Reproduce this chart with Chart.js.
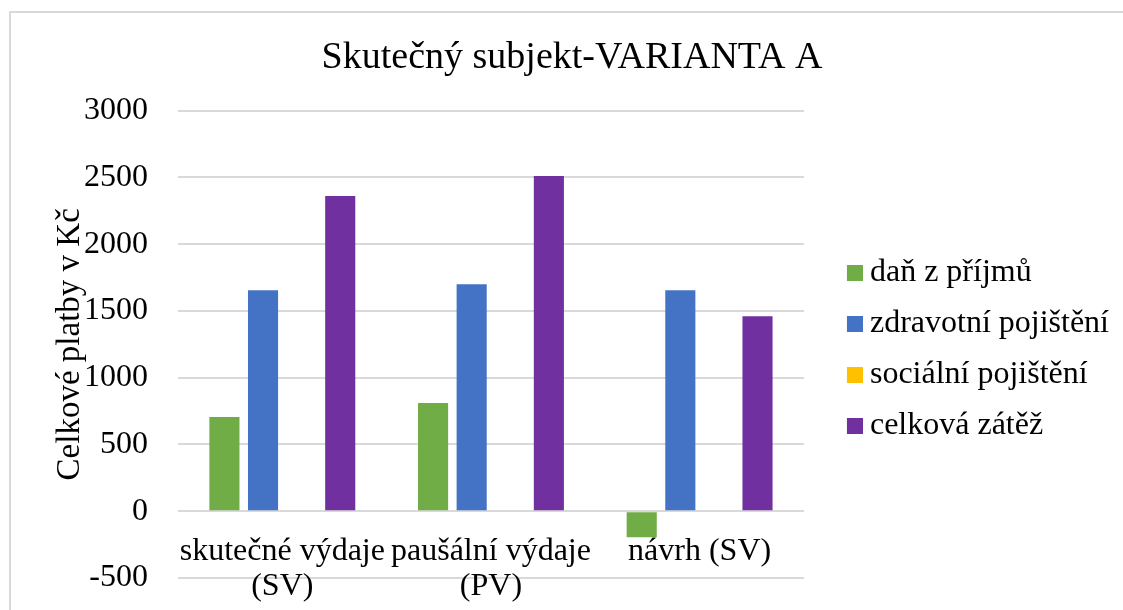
<!DOCTYPE html>
<html><head><meta charset="utf-8">
<script src="https://cdn.jsdelivr.net/npm/chart.js@4.4.0/dist/chart.umd.min.js"></script>
<style>html,body{margin:0;padding:0;background:#fff;overflow:hidden}#wrap{width:1123px;height:610px;position:relative}</style>
</head><body><div id="wrap"><canvas id="c"></canvas></div>
<script>
const chartTitle = 'Skutečný subjekt-VARIANTA A';
const yAxisTitle = 'Celkové platby v Kč';
const categories = [['skutečné výdaje', '(SV)'], ['paušální výdaje', '(PV)'], 'návrh (SV)'];
const seriesNames = ['daň z příjmů', 'zdravotní pojištění', 'sociální pojištění', 'celková zátěž'];
const danZPrijmu = [705, 810, -195];
const zdravotniPojisteni = [1655, 1700, 1655];
const socialniPojisteni = [0, 0, 0];
const celkovaZatez = [2360, 2510, 1460];
const seriesColors = ['#70AD47', '#4472C4', '#FFC000', '#7030A0'];
const yMin = -500, yMax = 3000, yStep = 500;

const FONT = 'Liberation Serif';
const seriesValues = [danZPrijmu, zdravotniPojisteni, socialniPojisteni, celkovaZatez];

function makeSwatch(color) {
  const c = document.createElement('canvas');
  c.width = 49; c.height = 16;
  const g = c.getContext('2d');
  g.fillStyle = color;
  g.fillRect(33, 0, 16, 16);
  return c;
}
const swatches = seriesColors.map(makeSwatch);

const framePlugin = {
  id: 'frame',
  beforeDraw(chart) {
    const ctx = chart.ctx;
    ctx.save();
    ctx.fillStyle = '#fff';
    ctx.fillRect(0, 0, chart.width, chart.height);
    ctx.strokeStyle = '#d9d9d9';
    ctx.lineWidth = 2;
    ctx.strokeRect(10, 12, 1400, 900);
    ctx.restore();
  }
};

new Chart(document.getElementById('c'), {
  type: 'bar',
  data: {
    labels: categories,
    datasets: seriesNames.map((name, i) => ({
      label: name,
      data: seriesValues[i],
      backgroundColor: seriesColors[i],
      borderWidth: 0,
      barPercentage: 0.78,
      categoryPercentage: 0.74
    }))
  },
  options: {
    responsive: true,
    maintainAspectRatio: false,
    animation: false,
    layout: { padding: { top: 14, left: 25, right: 4, bottom: 32 } },
    plugins: {
      title: {
        display: true, text: chartTitle, color: '#000',
        font: { family: FONT, size: 38, weight: 'normal' },
        padding: { top: 21, bottom: 30 }
      },
      legend: {
        position: 'right', align: 'center', fullSize: false, maxWidth: 400,
        title: { display: true, text: ' ', font: { size: 8 }, padding: 0 },
        labels: {
          color: '#000',
          font: { family: FONT, size: 32 },
          usePointStyle: true, pointStyleWidth: 31, boxHeight: 16, padding: 19,
          generateLabels(chart) {
            const items = Chart.defaults.plugins.legend.labels.generateLabels(chart);
            items.forEach((it, i) => { it.pointStyle = swatches[i]; });
            return items;
          }
        }
      },
      tooltip: { enabled: false }
    },
    scales: {
      x: {
        position: { y: 0 },
        grid: { display: false, drawTicks: false },
        border: { display: false },
        ticks: {
          padding: 23, maxRotation: 0, minRotation: 0, autoSkip: false, color: '#000',
          font: { family: FONT, size: 32, lineHeight: 1.1 }
        }
      },
      y: {
        min: yMin, max: yMax,
        grid: { color: '#d9d9d9', lineWidth: 2, drawTicks: true, tickLength: 18, tickColor: 'rgba(0,0,0,0)' },
        border: { display: false },
        ticks: {
          stepSize: yStep, padding: 12, color: '#000', font: { family: FONT, size: 32 },
          callback: (v) => String(v)
        },
        title: {
          display: true, text: yAxisTitle, color: '#000',
          font: { family: FONT, size: 33 },
          padding: { top: 25.5, bottom: -18.1 }
        }
      }
    }
  },
  plugins: [framePlugin]
});
</script></body></html>
